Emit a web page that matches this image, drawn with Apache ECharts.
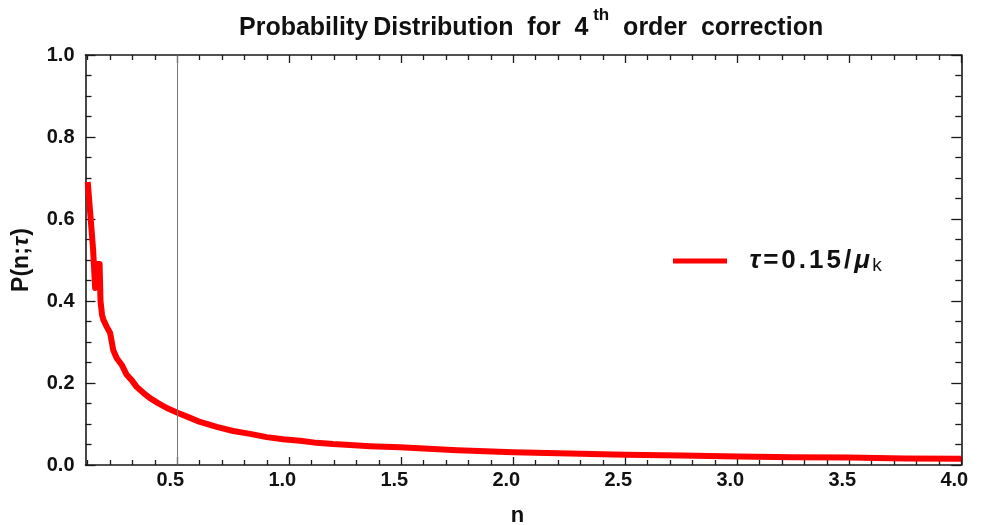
<!DOCTYPE html>
<html>
<head>
<meta charset="utf-8">
<script src="https://cdn.jsdelivr.net/npm/echarts@6/dist/echarts.min.js"></script>
<style>html,body{margin:0;padding:0;background:#fff}#c{width:984px;height:525px}</style>
</head>
<body>
<div id="c"></div>
<script>
// ---- data ----
const nValues = [0.1, 0.124, 0.133, 0.137, 0.153, 0.157, 0.164, 0.170, 0.185, 0.200, 0.214, 0.229, 0.252, 0.274, 0.296, 0.319, 0.348, 0.378, 0.414, 0.453, 0.503, 0.557, 0.601, 0.676, 0.749, 0.825, 0.899, 0.972, 1.048, 1.122, 1.195, 1.271, 1.36, 1.494, 1.75, 2.0, 2.25, 2.5, 2.75, 3.0, 3.25, 3.5, 3.75, 4.0];
const pValues = [0.69, 0.525, 0.432, 0.49, 0.49, 0.40, 0.366, 0.354, 0.337, 0.322, 0.280, 0.261, 0.244, 0.220, 0.207, 0.190, 0.176, 0.163, 0.151, 0.139, 0.127, 0.115, 0.105, 0.093, 0.083, 0.076, 0.068, 0.063, 0.059, 0.054, 0.051, 0.049, 0.046, 0.043, 0.036, 0.031, 0.028, 0.025, 0.023, 0.021, 0.019, 0.018, 0.016, 0.015];
const xMajorTicks = [0.5, 1.0, 1.5, 2.0, 2.5, 3.0, 3.5, 4.0];
const xMinorTicks = [0.1, 0.2, 0.3, 0.4, 0.6, 0.7, 0.8, 0.9, 1.1, 1.2, 1.3, 1.4, 1.6, 1.7, 1.8, 1.9, 2.1, 2.2, 2.3, 2.4, 2.6, 2.7, 2.8, 2.9, 3.1, 3.2, 3.3, 3.4, 3.6, 3.7, 3.8, 3.9];
const markerN = 0.5;
const seriesName = 'τ=0.15/μk';

const FONT = "'Liberation Sans', Arial, sans-serif";
const chart = echarts.init(document.getElementById('c'));
const X_MIN = 0.09, X_MAX = 4.0;
const axisCol = '#1a1a1a';

function xAx(pos, major, withLabel, withLine) {
  return {
    type: 'value', position: pos, min: X_MIN, max: X_MAX,
    axisLine: { show: withLine, onZero: false, lineStyle: { color: axisCol, width: 1.6 } },
    axisTick: { show: true, inside: true, length: major ? 8 : 5, customValues: major ? xMajorTicks : xMinorTicks, lineStyle: { color: axisCol, width: 1.3 } },
    axisLabel: withLabel ? { show: true, customValues: xMajorTicks, formatter: v => v.toFixed(1), fontFamily: FONT, fontWeight: 'bold', fontSize: 20, color: '#111', margin: 5, padding: [0, 14, 0, 0] } : { show: false },
    splitLine: { show: false },
    name: withLabel ? 'n' : '', nameLocation: 'middle', nameGap: 40,
    nameTextStyle: { fontFamily: FONT, fontWeight: 'bold', fontSize: 22, color: '#111', padding: [0, 12, 0, 0] }
  };
}
function yAx(pos, withLabel) {
  return {
    type: 'value', position: pos, min: 0, max: 1, interval: 0.2,
    axisLine: { show: true, onZero: false, lineStyle: { color: axisCol, width: 1.6 } },
    axisTick: { show: true, inside: true, length: 10, lineStyle: { color: axisCol, width: 1.3 } },
    minorTick: { show: true, splitNumber: 4, length: 6, lineStyle: { color: axisCol, width: 1.3 } },
    axisLabel: withLabel ? { show: true, formatter: v => v.toFixed(1), fontFamily: FONT, fontWeight: 'bold', fontSize: 20, color: '#111', margin: 11 } : { show: false },
    splitLine: { show: false },
    name: withLabel ? '{n|P(n;}{t|τ}{n|)}' : '', nameLocation: 'middle', nameGap: 52,
    nameTextStyle: { rich: {
      n: { fontFamily: FONT, fontWeight: 'bold', fontSize: 23, color: '#111' },
      t: { fontFamily: FONT, fontWeight: 'bold', fontStyle: 'italic', fontSize: 23, color: '#111', padding: [0, 1, 0, 1] }
    } }
  };
}

const LG = { fontFamily: FONT, fontWeight: 'bold', fontSize: 26, color: '#111', padding: [0, 1.5, 0, 1.5] };

chart.setOption({
  animation: false,
  backgroundColor: '#fff',
  title: {
    text: '{a|Probability\u2009Distribution  for  4}{sup| th}{a|  order  correction}',
    left: 234, top: 2,
    textStyle: { rich: {
      a: { fontFamily: FONT, fontWeight: 'bold', fontSize: 25, color: '#111', lineHeight: 38, verticalAlign: 'bottom', padding: [0,0,4,0] },
      sup: { fontFamily: FONT, fontWeight: 'bold', fontSize: 17, color: '#111', verticalAlign: 'top', lineHeight: 20 }
    } }
  },
  legend: {
    data: [{ name: seriesName, icon: 'rect' }],
    left: 668, top: 243, itemWidth: 54, itemHeight: 5,
    formatter: () => '{t|τ}{b|=}{b|0}{b|.}{b|1}{b|5}{b|/}{t|μ}{s|k}',
    textStyle: { padding: [0, 0, 0, 16], rich: {
      t: Object.assign({}, LG, { fontStyle: 'italic' }),
      b: LG,
      s: { fontFamily: FONT, fontSize: 19, color: '#111', verticalAlign: 'bottom', padding: [9, 0, 0, 1] }
    } }
  },
  grid: { left: 85.5, right: 22.7, top: 55, bottom: 60, containLabel: false, outerBoundsMode: 'none' },
  xAxis: [xAx('bottom', true, true, true), xAx('bottom', false, false, false), xAx('top', true, false, true), xAx('top', false, false, false)],
  yAxis: [yAx('left', true), yAx('right', false)],
  series: [{
    name: seriesName, type: 'line', xAxisIndex: 0, yAxisIndex: 0,
    data: nValues.map((n, i) => [n, pValues[i]]),
    showSymbol: false, symbol: 'none', smooth: false,
    lineStyle: { color: '#ff0000', width: 6, cap: 'butt', join: 'round' },
    itemStyle: { color: '#ff0000' },
    markLine: { silent: true, symbol: ['none', 'none'], label: { show: false },
      lineStyle: { color: '#777', width: 1, type: 'solid' },
      data: [{ xAxis: markerN }] }
  }]
});
</script>
</body>
</html>
